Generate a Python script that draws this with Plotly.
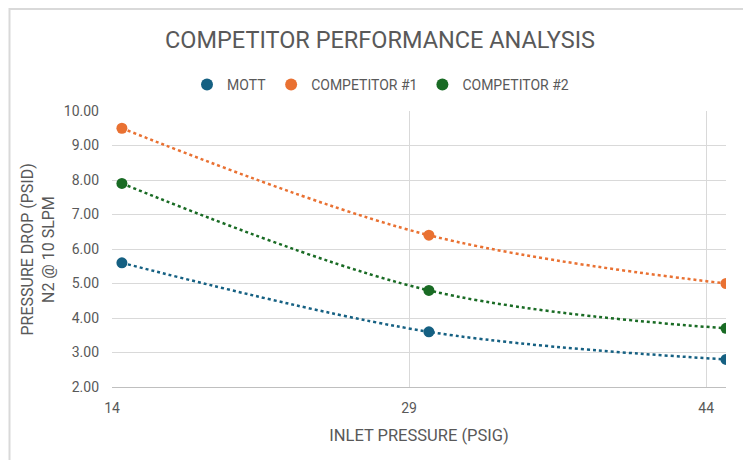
import plotly.graph_objects as go

inlet_pressure = [14.5, 30, 45]
mott = [5.6, 3.6, 2.8]
competitor_1 = [9.5, 6.4, 5.0]
competitor_2 = [7.9, 4.8, 3.7]
x_ticks = [14, 29, 44]
y_ticks = [2, 3, 4, 5, 6, 7, 8, 9, 10]
y_title_lines = ["PRESSURE DROP (PSID)", "N2 @ 10 SLPM"]

series = [
    ("MOTT", mott, "#156082"),
    ("COMPETITOR #1", competitor_1, "#E97132"),
    ("COMPETITOR #2", competitor_2, "#196B24"),
]

FONT = "Roboto, Arial"
GRAY = "#595959"

# page body has an 8px margin; size the figure so it fills the 751x460 window
W, H = 743, 452
L, R, T, B = 104, 25, 103, 73
PW, PH = W - L - R, H - T - B

fig = go.Figure()
for name, vals, color in series:
    fig.add_trace(go.Scatter(
        x=inlet_pressure, y=vals, mode="lines", line_shape="spline",
        line=dict(color=color, width=2.5, dash="dot"),
        showlegend=False, hoverinfo="skip"))
for name, vals, color in series:
    fig.add_trace(go.Scatter(
        x=inlet_pressure, y=vals, mode="markers", name=name,
        marker=dict(color=color, size=11)))

annotations = []
for text, page_x in zip(y_title_lines, [26.5, 48]):
    annotations.append(dict(
        text=text, xref="paper", yref="paper",
        x=(page_x - 8 - L) / PW, y=1 - (250 - 8 - T) / PH,
        xanchor="center", yanchor="middle", textangle=-90, showarrow=False,
        font=dict(size=16, color=GRAY, family=FONT)))

fig.update_layout(
    width=W, height=H,
    margin=dict(l=L, r=R, t=T, b=B, autoexpand=False),
    paper_bgcolor="white", plot_bgcolor="white",
    font=dict(family=FONT, color=GRAY, size=13),
    title=dict(text="COMPETITOR PERFORMANCE ANALYSIS", x=(380 - 8) / W, xanchor="center",
               xref="container", y=1 - 32 / H, yanchor="middle",
               font=dict(size=23.5, color=GRAY, family=FONT)),
    legend=dict(orientation="h", x=(199 - 20 - L) / PW, xanchor="left",
                y=1 + 26 / PH, yanchor="middle",
                font=dict(size=14, color=GRAY), itemsizing="constant",
                itemwidth=30, traceorder="normal"),
    xaxis=dict(range=[14, 45], tickvals=x_ticks, ticktext=[str(t) for t in x_ticks],
               showgrid=True, gridcolor="#d9d9d9", gridwidth=1,
               showline=True, linecolor="#bfbfbf", linewidth=1,
               zeroline=False, ticks="", tickfont=dict(size=14, color=GRAY),
               ticklabelstandoff=8,
               title=dict(text="INLET PRESSURE (PSIG)", font=dict(size=16.5, color=GRAY), standoff=14)),
    yaxis=dict(range=[2, 10], tickvals=y_ticks, tickformat=".2f",
               showgrid=True, gridcolor="#d9d9d9", gridwidth=1,
               zeroline=False, showline=False, ticks="",
               tickfont=dict(size=14, color=GRAY), ticklabelstandoff=12),
    annotations=annotations,
    shapes=[dict(type="rect", xref="paper", yref="paper",
                 x0=(1.5 - L) / PW, x1=(740 - L) / PW,
                 y0=-0.5, y1=1 + (T - 1) / PH,
                 line=dict(color="#d9d9d9", width=2), layer="below")],
)

fig.write_html("out.html")
